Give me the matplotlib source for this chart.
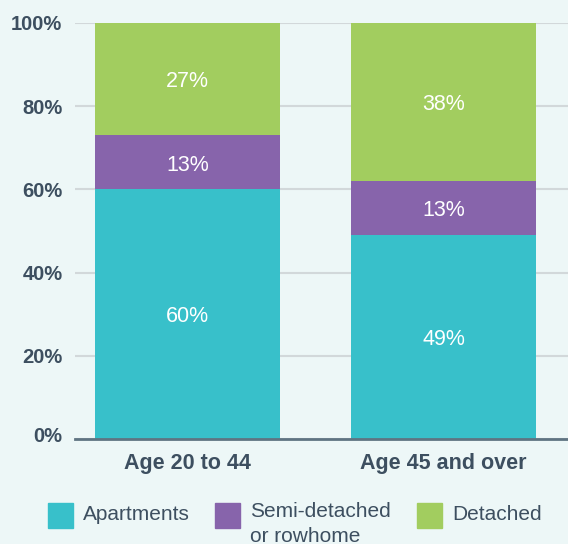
import matplotlib
matplotlib.use("Agg")
import matplotlib.pyplot as plt
from matplotlib.patches import Rectangle
import matplotlib.transforms as mtransforms
import numpy as np

categories = ["Age 20 to 44", "Age 45 and over"]
series_names = ["Apartments", "Semi-detached\nor rowhome", "Detached"]
apartments = [60, 49]
semi = [13, 13]
detached = [27, 38]
yticks = [0, 20, 40, 60, 80, 100]
ytick_labels = ["0%", "20%", "40%", "60%", "80%", "100%"]

colors = ["#38c0ca", "#8764ab", "#a2cd5f"]
bg = "#edf7f7"
txt = "#3d4f60"

plt.rcParams['font.family'] = ['Liberation Sans', 'DejaVu Sans']

W, H = 568, 544
fig = plt.figure(figsize=(W / 100, H / 100), dpi=100, facecolor=bg)
ax = fig.add_axes([75 / W, (H - 439) / H, (W - 75) / W, (439 - 23) / H])
ax.set_facecolor(bg)

x = np.arange(len(categories))
width = 185 / 256
bottoms = np.zeros(len(categories))
for vals, c in zip([apartments, semi, detached], colors):
    bars = ax.bar(x, vals, width, bottom=bottoms, color=c, zorder=3)
    for rect, v, b in zip(bars, vals, bottoms):
        ax.text(rect.get_x() + rect.get_width() / 2, b + v / 2, f"{v}%",
                ha="center", va="center", color="white", fontsize=15.5,
                fontweight="medium", zorder=4,
                transform=ax.transData + mtransforms.ScaledTranslation(0, -2 / 72, fig.dpi_scale_trans))
    bottoms = bottoms + np.array(vals)

ax.set_xlim(-(187.5 - 75) / 256, 1 + (568 - 443.5) / 256)
ax.set_ylim(0, 100)
ax.set_yticks(yticks)
ax.set_yticklabels(ytick_labels)
ax.set_xticks(x)
ax.set_xticklabels(categories)
ax.yaxis.grid(True, color="#d2d8da", linewidth=1.5, zorder=0)
ax.set_axisbelow(True)
for s in ["left", "right", "top"]:
    ax.spines[s].set_visible(False)
ax.spines["bottom"].set_color("#5f7482")
ax.spines["bottom"].set_linewidth(2)
ax.spines["bottom"].set_zorder(5)
ax.tick_params(axis="both", length=0)
ax.tick_params(axis="y", pad=9, labelsize=14.5, labelcolor=txt)
ax.tick_params(axis="x", pad=10, labelsize=15.5, labelcolor=txt)
for lab in ax.get_yticklabels():
    lab.set_fontweight("bold")
for lab in ax.get_xticklabels():
    lab.set_fontweight("bold")
# 0% label sits slightly above the axis line in the reference
zero_lab = ax.get_yticklabels()[0]
zero_lab.set_transform(zero_lab.get_transform() +
                       mtransforms.ScaledTranslation(0, 5 / 100, fig.dpi_scale_trans))

# legend
sq = 25
leg_x = [48, 215, 417]
for lx, c, name in zip(leg_x, colors, series_names):
    fig.patches.append(Rectangle((lx / W, (H - 528) / H), sq / W, sq / H,
                                 transform=fig.transFigure, color=c))
    if "\n" in name:
        fig.text((lx + 35) / W, (H - 502) / H, name, ha="left", va="top",
                 color=txt, fontsize=15, linespacing=1.4)
    else:
        fig.text((lx + 35) / W, (H - 514) / H, name, ha="left", va="center",
                 color=txt, fontsize=15)

fig.savefig("out.png", dpi=100, facecolor=bg)
